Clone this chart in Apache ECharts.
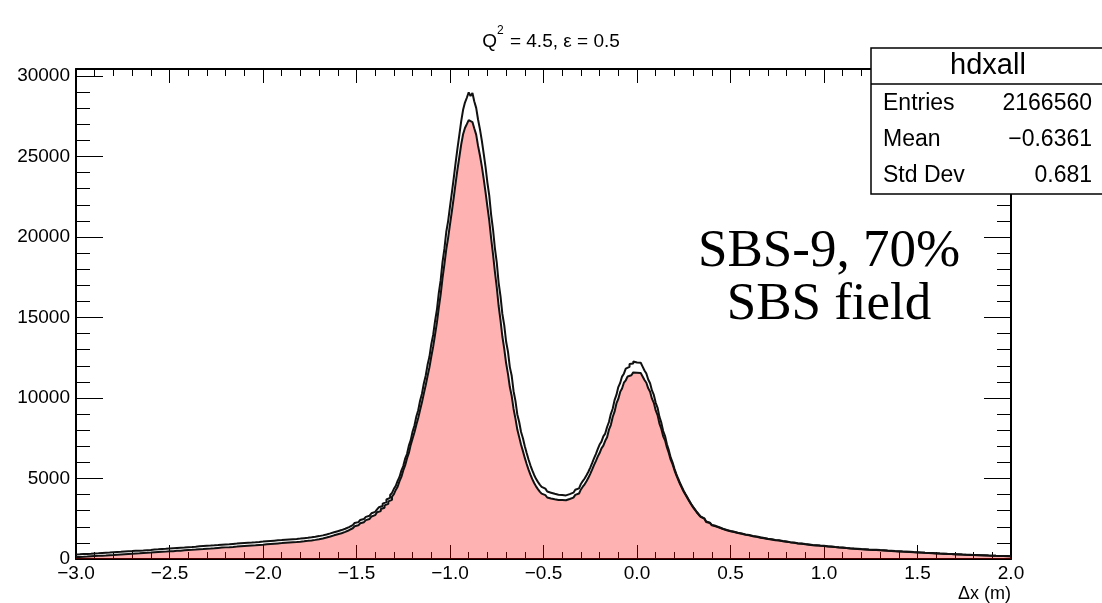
<!DOCTYPE html>
<html>
<head>
<meta charset="utf-8">
<script src="https://cdn.jsdelivr.net/npm/echarts@6/dist/echarts.min.js"></script>
<style>
  html, body { margin: 0; padding: 0; background: #ffffff; }
  #chart { width: 1102px; height: 603px; }
</style>
</head>
<body>
<div id="chart"></div>
<script>
// Histogram binning: 500 bins of 0.01 m between -3 and 2
const xMin = -3.0;
const xMax = 2.0;
const binWidth = 0.01;
const yMin = 0;
const yMax = 30435;

// Tick values and labels
const xTickValues = [-3.0, -2.5, -2.0, -1.5, -1.0, -0.5, 0.0, 0.5, 1.0, 1.5, 2.0];
const xTickLabels = ['\u22123.0', '\u22122.5', '\u22122.0', '\u22121.5', '\u22121.0', '\u22120.5', '0.0', '0.5', '1.0', '1.5', '2.0'];
const yTickValues = [0, 5000, 10000, 15000, 20000, 25000, 30000];
const yTickLabels = ['0', '5000', '10000', '15000', '20000', '25000', '30000'];

// Counts per bin, all events (outline only)
const countsAll = [
  284, 290, 296, 305, 309, 318, 326, 331, 337, 348, 352, 361, 365, 377, 380, 392, 398, 404, 413, 420,
  426, 434, 441, 447, 455, 463, 468, 478, 483, 491, 497, 506, 512, 518, 529, 533, 540, 549, 556, 562,
  575, 583, 592, 598, 607, 614, 622, 630, 638, 647,
  652, 664, 670, 681, 688, 697, 708, 713, 724, 731, 741, 748, 759, 766, 774, 786, 791, 802, 808, 818,
  828, 834, 845, 851, 862, 869, 878, 888, 894, 905, 913, 920, 931, 938, 948, 956, 964, 975, 980, 992,
  999, 1008, 1018, 1024, 1035, 1041, 1052, 1060, 1068, 1080,
  1092, 1104, 1110, 1122, 1128, 1140, 1145, 1158, 1164, 1175, 1180, 1194, 1199, 1212, 1216, 1230, 1236, 1247, 1255, 1266,
  1276, 1292, 1304, 1318, 1331, 1345, 1362, 1378, 1401, 1422, 1445, 1468, 1498, 1524, 1562, 1590, 1625, 1660, 1700, 1728,
  1762, 1796, 1835, 1880, 1928, 1985, 2045, 2108, 2172, 2236, 2290, 2352, 2420, 2485, 2548, 2615, 2688, 2762, 2842, 2928,
  3030, 3085, 3215, 3290, 3440, 3530, 3695, 3800, 3975, 4110, 4360, 4540, 4850, 5090, 5490, 5770, 6230, 6520, 7040, 7380,
  7920, 8290, 8850, 9240, 9830, 10270, 10900, 11380, 12060, 12560, 13340, 13920, 14780, 15480, 16520, 17300, 18440, 19260, 20310, 20990,
  21880, 22750, 23650, 24600, 25500, 26350, 27200, 27900, 28350, 28650, 28980, 28760, 28940, 28420, 28020, 27300, 26700, 26000, 25200, 24350,
  23380, 22570, 21380, 20480, 19310, 18430, 17170, 16330, 15220, 14530, 13510, 12880, 11920, 11380, 10420, 9820, 8980, 8510, 7890, 7500,
  7000, 6580, 6180, 5820, 5500, 5220, 4980, 4790, 4620, 4480, 4370, 4270, 4190, 4120, 4080, 4050, 4010, 3990, 4000, 3970,
  3960, 3950, 3990, 4030, 4060, 4120, 4200, 4300, 4390, 4510, 4660, 4840, 5000, 5200, 5420, 5680, 5950, 6250, 6520, 6820,
  7110, 7290, 7620, 7790, 8200, 8510, 9000, 9330, 9870, 10190, 10680, 10930, 11330, 11510, 11820, 11930, 12110, 12140, 12270, 12200,
  12230, 12190, 12080, 11950, 11710, 11520, 11150, 10920, 10470, 10190, 9700, 9390, 8830, 8470, 7950, 7640, 7130, 6760, 6310, 6010,
  5620, 5290, 5000, 4720, 4470, 4230, 4020, 3820, 3610, 3420, 3240, 3080, 2920, 2780, 2650, 2530, 2420, 2330, 2260, 2190,
  2120, 2060, 2010, 1975, 1920, 1880, 1845, 1810, 1770, 1740, 1720, 1695, 1660, 1630, 1610, 1585, 1560, 1530, 1510, 1490,
  1460, 1435, 1415, 1395, 1370, 1345, 1330, 1305, 1280, 1262, 1250, 1232, 1205, 1188, 1172, 1160, 1138, 1118, 1102, 1090,
  1068, 1048, 1040, 1018, 1002, 985, 972, 958, 942, 928, 918, 905, 892, 876, 868, 860, 848, 836, 828, 818,
  808, 796, 790, 775, 764, 752, 744, 730, 722, 712, 702, 690, 683, 670, 662, 652, 646, 635, 628, 618,
  612, 604, 598, 588, 580, 576, 584, 570, 562, 552, 546, 538, 530, 522, 516, 510, 502, 494, 490, 482,
  474, 468, 462, 456, 448, 444, 436, 430, 424, 418, 410, 404, 398, 390, 386, 378, 372, 366, 360, 354,
  348, 342, 338, 332, 326, 320, 316, 310, 304, 298, 294, 290, 284, 278, 274, 268, 266, 260, 255, 250,
  246, 242, 238, 234, 228, 226, 220, 214, 212, 208, 204, 200, 198, 194, 190, 188, 184, 182, 178, 176
];

// Counts per bin, selected events (filled)
const countsSelected = [
  122, 128, 133, 139, 146, 151, 160, 166, 172, 180, 188, 194, 201, 208, 216, 222, 231, 238, 246, 252,
  259, 268, 274, 282, 289, 296, 304, 310, 318, 324, 332, 338, 347, 352, 361, 368, 375, 382, 390, 397,
  405, 413, 420, 428, 436, 443, 451, 458, 466, 474,
  478, 487, 495, 505, 512, 520, 531, 537, 548, 554, 565, 571, 582, 589, 597, 609, 612, 624, 630, 640,
  649, 655, 666, 671, 682, 689, 696, 707, 712, 722, 730, 736, 747, 752, 762, 769, 777, 788, 792, 804,
  811, 820, 830, 836, 846, 852, 864, 872, 880, 891,
  900, 915, 918, 934, 936, 952, 953, 970, 972, 987, 988, 1006, 1007, 1024, 1024, 1042, 1044, 1059, 1063, 1078,
  1086, 1102, 1114, 1128, 1141, 1155, 1172, 1188, 1211, 1232, 1255, 1278, 1308, 1334, 1372, 1400, 1435, 1470, 1508, 1536,
  1567, 1600, 1639, 1684, 1731, 1788, 1847, 1910, 1974, 2037, 2091, 2153, 2221, 2286, 2349, 2416, 2489, 2563, 2643, 2728,
  2800, 2905, 2975, 3105, 3185, 3330, 3420, 3580, 3675, 3880, 4030, 4290, 4490, 4840, 5100, 5500, 5810, 6250, 6590, 7090,
  7480, 7870, 8340, 8760, 9260, 9730, 10270, 10790, 11360, 11910, 12580, 13200, 13940, 14680, 15600, 16420, 17440, 18300, 19230, 19950,
  20780, 21600, 22450, 23350, 24200, 24970, 25750, 26380, 26770, 27010, 27260, 27140, 27240, 26740, 26360, 25660, 25080, 24400, 23620, 22790,
  21880, 21010, 19920, 18940, 17850, 16890, 15730, 14830, 13820, 13070, 12170, 11500, 10680, 10120, 9320, 8720, 8040, 7570, 7100, 6700,
  6280, 5900, 5550, 5240, 4960, 4720, 4510, 4340, 4190, 4060, 3970, 3890, 3820, 3760, 3730, 3710, 3680, 3670, 3680, 3660,
  3660, 3650, 3690, 3730, 3760, 3815, 3890, 3985, 4070, 4180, 4320, 4490, 4640, 4830, 5040, 5290, 5550, 5830, 6080, 6360,
  6580, 6870, 7040, 7340, 7560, 8030, 8320, 8820, 9150, 9660, 9940, 10380, 10590, 10950, 11100, 11340, 11410, 11530, 11590, 11570,
  11580, 11550, 11450, 11340, 11120, 10950, 10600, 10390, 9960, 9700, 9230, 8940, 8410, 8090, 7620, 7370, 6930, 6590, 6170, 5890,
  5525, 5210, 4930, 4658, 4414, 4180, 3974, 3778, 3570, 3382, 3204, 3046, 2888, 2750, 2620, 2502, 2392, 2303, 2233, 2164,
  2095, 2035, 1985, 1951, 1896, 1857, 1822, 1787, 1747, 1718, 1698, 1673, 1638, 1608, 1589, 1564, 1539, 1509, 1489, 1469,
  1440, 1415, 1395, 1375, 1351, 1326, 1311, 1286, 1261, 1243, 1232, 1214, 1187, 1170, 1154, 1142, 1120, 1100, 1085, 1073,
  1052, 1032, 1024, 1002, 986, 969, 956, 942, 927, 913, 903, 890, 877, 861, 854, 846, 834, 822, 814, 804,
  795, 783, 777, 762, 751, 739, 731, 718, 710, 700, 690, 678, 671, 658, 650, 641, 635, 624, 617, 607,
  602, 594, 588, 578, 570, 566, 574, 560, 552, 542, 537, 529, 521, 513, 507, 501, 493, 485, 481, 473,
  466, 460, 454, 448, 440, 436, 428, 422, 416, 410, 402, 396, 391, 383, 379, 371, 365, 359, 353, 347,
  342, 336, 332, 326, 320, 314, 310, 304, 298, 292, 288, 284, 279, 273, 269, 263, 261, 255, 250, 245,
  242, 238, 234, 230, 224, 222, 216, 210, 208, 204, 200, 196, 194, 190, 186, 184, 180, 178, 174, 172
];

// Step-line points: each bin's lower edge, plus the upper edge of the last bin
function histPoints(counts) {
  const pts = counts.map((c, i) => [+(xMin + i * binWidth).toFixed(4), c]);
  pts.push([xMax, counts[counts.length - 1]]);
  return pts;
}

const FONT = '"Liberation Sans", Arial, Helvetica, sans-serif';
const SERIF = '"Liberation Serif", "Times New Roman", serif';

function xLabel(v) {
  const i = xTickValues.findIndex(t => Math.abs(t - v) < 1e-6);
  return i >= 0 ? xTickLabels[i] : '';
}
function yLabel(v) {
  const i = yTickValues.findIndex(t => Math.abs(t - v) < 1e-6);
  return i >= 0 ? yTickLabels[i] : '';
}

// One axis per side for the long ticks, one for the short ones; the frame comes from the long-tick axes
function axisLineOpt(show) {
  return { show: show, onZero: false, lineStyle: { color: '#000', width: 2 } };
}
function xAx(pos, interval, len, showLine, labels) {
  return {
    type: 'value', position: pos, min: xMin, max: xMax, interval: interval,
    axisLine: axisLineOpt(showLine),
    axisTick: { show: true, inside: true, length: len, lineStyle: { color: '#000', width: 1 } },
    axisLabel: labels ? { show: true, margin: 5, formatter: xLabel, color: '#000', fontSize: 19, fontFamily: FONT, showMinLabel: true, showMaxLabel: true } : { show: false },
    splitLine: { show: false }
  };
}
function yAx(pos, interval, len, showLine, labels) {
  return {
    type: 'value', position: pos, min: yMin, max: yMax, interval: interval,
    axisLine: axisLineOpt(showLine),
    axisTick: { show: true, inside: true, length: len, lineStyle: { color: '#000', width: 1 } },
    axisLabel: labels ? { show: true, margin: 6, formatter: yLabel, color: '#000', fontSize: 19, fontFamily: FONT, showMinLabel: true, showMaxLabel: true } : { show: false },
    splitLine: { show: false }
  };
}

function statText(x, y, text, size, align) {
  return {
    type: 'text', x: x, y: y, z: 101, zlevel: 1,
    style: { text: text, fill: '#000', font: size + 'px ' + FONT, textAlign: align, textVerticalAlign: 'middle' }
  };
}

const chart = echarts.init(document.getElementById('chart'), null, { renderer: 'canvas' });

chart.setOption({
  animation: false,
  backgroundColor: '#ffffff',
  title: {
    text: '{a|Q}{s|2}{a| = 4.5, \u03b5 = 0.5}',
    left: 'center',
    top: 20,
    textStyle: {
      fontWeight: 'normal',
      rich: {
        a: { fontSize: 19, fontFamily: FONT, fontWeight: 'normal', color: '#000', lineHeight: 26, verticalAlign: 'bottom' },
        s: { fontSize: 12, fontFamily: FONT, fontWeight: 'normal', color: '#000', lineHeight: 26, verticalAlign: 'top', padding: [0, 1, 0, 0] }
      }
    }
  },
  grid: { left: 76, right: 91, top: 69, bottom: 44, containLabel: false },
  xAxis: [
    xAx('bottom', 0.5, 14, true, true),
    xAx('bottom', 0.1, 7, false, false),
    xAx('top', 0.5, 14, true, false),
    xAx('top', 0.1, 7, false, false)
  ],
  yAxis: [
    yAx('left', 5000, 27, true, true),
    yAx('left', 1000, 14, false, false),
    yAx('right', 5000, 27, true, false),
    yAx('right', 1000, 14, false, false)
  ],
  series: [
    {
      type: 'line', name: 'selected', xAxisIndex: 0, yAxisIndex: 0,
      data: histPoints(countsSelected), step: 'end', showSymbol: false,
      lineStyle: { color: '#111', width: 2 },
      areaStyle: { color: 'rgba(255,0,0,0.3)', opacity: 1, origin: 'start' },
      z: 2
    },
    {
      type: 'line', name: 'all', xAxisIndex: 0, yAxisIndex: 0,
      data: histPoints(countsAll), step: 'end', showSymbol: false,
      lineStyle: { color: '#111', width: 2 },
      z: 3
    }
  ],
  graphic: [
    // statistics box, on its own layer above the frame
    { type: 'rect', z: 100, zlevel: 1, shape: { x: 871, y: 48, width: 240, height: 146 }, style: { fill: '#fff', stroke: '#000', lineWidth: 1.5 } },
    { type: 'line', z: 101, zlevel: 1, shape: { x1: 871, y1: 84, x2: 1110, y2: 84 }, style: { stroke: '#000', lineWidth: 1.5 } },
    statText(988, 66, 'hdxall', 29, 'center'),
    statText(883, 104, 'Entries', 23, 'left'),
    statText(1092, 104, '2166560', 23, 'right'),
    statText(883, 140, 'Mean', 23, 'left'),
    statText(1092, 140, '\u22120.6361', 23, 'right'),
    statText(883, 176, 'Std Dev', 23, 'left'),
    statText(1092, 176, '0.681', 23, 'right'),
    // run annotation
    { type: 'text', z: 100, zlevel: 1, x: 829, y: 252, style: { text: 'SBS-9, 70%', fill: '#000', font: '53px ' + SERIF, textAlign: 'center', textVerticalAlign: 'middle' } },
    { type: 'text', z: 100, zlevel: 1, x: 829, y: 305, style: { text: 'SBS field', fill: '#000', font: '53px ' + SERIF, textAlign: 'center', textVerticalAlign: 'middle' } },
    // x-axis title
    { type: 'text', z: 100, zlevel: 1, x: 1011, y: 594, style: { text: '\u0394x (m)', fill: '#000', font: '18px ' + FONT, textAlign: 'right', textVerticalAlign: 'middle' } }
  ]
});
</script>
</body>
</html>
